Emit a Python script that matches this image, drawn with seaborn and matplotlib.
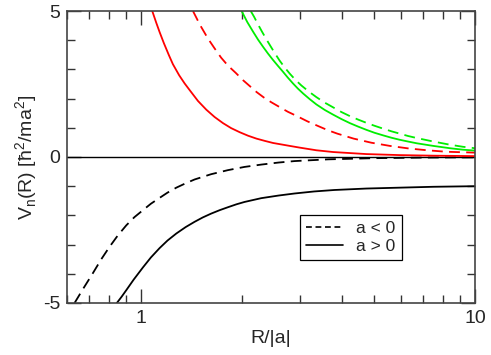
import matplotlib
matplotlib.use("Agg")
import matplotlib.pyplot as plt
import seaborn as sns
from matplotlib.lines import Line2D
from matplotlib.ticker import NullFormatter, FixedLocator

# values (x = R/|a|, y = V_n in hbar^2/ma^2)
black_dash_x = [0.632, 0.67, 0.717, 0.76, 0.804, 0.85, 0.903, 0.955, 1.013, 1.07, 1.136, 1.2, 1.275, 1.36, 1.446,
                1.62, 1.82, 2.04, 2.29, 2.58, 2.88, 3.63, 5.0, 7.0, 10.0]
black_dash_y = [-5.0, -4.52, -3.98, -3.50, -3.08, -2.70, -2.34, -2.06, -1.82, -1.60, -1.40, -1.22, -1.05, -0.90, -0.77,
                -0.59, -0.45, -0.34, -0.26, -0.19, -0.14, -0.08, -0.04, -0.02, -0.01]

black_solid_x = [0.846, 0.875, 0.903, 0.95, 1.013, 1.07, 1.136, 1.2, 1.275, 1.36, 1.446, 1.53, 1.62, 1.72, 1.82,
                 1.93, 2.04, 2.29, 2.58, 2.88, 3.3, 3.79, 4.73, 5.95, 7.5, 10.0]
black_solid_y = [-5.0, -4.78, -4.56, -4.20, -3.78, -3.44, -3.12, -2.86, -2.62, -2.40, -2.22, -2.07, -1.94, -1.82, -1.72,
                 -1.62, -1.54, -1.41, -1.32, -1.25, -1.18, -1.13, -1.08, -1.05, -1.02, -1.0]

red_solid_x = [1.08, 1.11, 1.136, 1.17, 1.21, 1.245, 1.30, 1.35, 1.398, 1.48, 1.568, 1.66, 1.759, 1.86, 1.973,
               2.09, 2.215, 2.35, 2.485, 2.787, 2.99, 3.35, 3.76, 4.73, 5.95, 7.5, 10.0]
red_solid_y = [5.0, 4.60, 4.28, 3.90, 3.50, 3.18, 2.80, 2.52, 2.29, 1.92, 1.62, 1.37, 1.16, 0.99, 0.85,
               0.73, 0.63, 0.55, 0.48, 0.38, 0.32, 0.23, 0.17, 0.10, 0.065, 0.045, 0.03]

red_dash_x = [1.43, 1.464, 1.50, 1.585, 1.66, 1.737, 1.82, 1.921, 2.02, 2.12, 2.22, 2.33, 2.45, 2.59, 2.75, 2.93,
              3.15, 3.39, 3.62, 3.87, 4.33, 4.89, 5.56, 6.35, 7.20, 8.19, 10.0]
red_dash_y = [5.0, 4.77, 4.53, 4.06, 3.72, 3.40, 3.13, 2.88, 2.63, 2.42, 2.22, 2.04, 1.88, 1.72, 1.55, 1.40,
              1.22, 1.06, 0.92, 0.80, 0.63, 0.49, 0.38, 0.29, 0.23, 0.18, 0.15]

green_solid_x = [2.0, 2.08, 2.165, 2.24, 2.32, 2.40, 2.485, 2.57, 2.66, 2.75, 2.85, 2.95, 3.06, 3.2, 3.35, 3.55,
                 3.76, 3.98, 4.22, 4.47, 4.73, 5.0, 5.31, 5.62, 5.95, 6.3, 6.69, 7.5, 8.42, 9.2, 10.0]
green_solid_y = [5.0, 4.62, 4.29, 4.02, 3.77, 3.54, 3.32, 3.12, 2.92, 2.72, 2.52, 2.34, 2.17, 1.98, 1.80, 1.61,
                 1.45, 1.30, 1.16, 1.04, 0.93, 0.83, 0.74, 0.66, 0.59, 0.53, 0.47, 0.38, 0.30, 0.25, 0.22]

green_dash_x = [2.13, 2.18, 2.24, 2.30, 2.37, 2.44, 2.52, 2.60, 2.69, 2.79, 2.90, 3.02, 3.18, 3.35, 3.55, 3.76,
                3.98, 4.22, 4.47, 4.73, 5.0, 5.31, 5.62, 5.95, 6.3, 6.69, 7.5, 8.42, 9.2, 10.0]
green_dash_y = [5.0, 4.80, 4.54, 4.30, 4.04, 3.80, 3.54, 3.30, 3.07, 2.85, 2.64, 2.45, 2.24, 2.05, 1.86, 1.70,
                1.54, 1.40, 1.28, 1.17, 1.07, 0.97, 0.88, 0.80, 0.72, 0.65, 0.53, 0.42, 0.35, 0.30]

legend_labels = ["a < 0", "a > 0"]

sns.set_style("ticks")
plt.rcParams["font.family"] = ["Liberation Sans", "DejaVu Sans"]
plt.rcParams["mathtext.fontset"] = "custom"
plt.rcParams["mathtext.rm"] = "Liberation Sans"

fig = plt.figure(figsize=(4.91, 3.55), dpi=100)
ax = fig.add_axes([0.1365, 0.1465, 0.8309, 0.8225])

ax.axhline(0, color="black", lw=1.0)

lw = 1.3
dash = (6, 3.5)
sns.lineplot(x=black_dash_x, y=black_dash_y, color="black", lw=lw, ax=ax).lines[-1].set_dashes(dash)
sns.lineplot(x=black_solid_x, y=black_solid_y, color="black", lw=lw, ax=ax)
sns.lineplot(x=red_solid_x, y=red_solid_y, color="#ff0000", lw=lw, ax=ax)
sns.lineplot(x=red_dash_x, y=red_dash_y, color="#ff0000", lw=lw, ax=ax).lines[-1].set_dashes(dash)
sns.lineplot(x=green_solid_x, y=green_solid_y, color="#00ee00", lw=lw, ax=ax)
sns.lineplot(x=green_dash_x, y=green_dash_y, color="#00ee00", lw=lw, ax=ax).lines[-1].set_dashes(dash)

ax.set_xscale("log")
ax.set_xlim(0.6, 10)
ax.set_ylim(-5, 5)

ax.xaxis.set_major_locator(FixedLocator([1, 10]))
ax.set_xticklabels(["1", "10"])
ax.xaxis.set_minor_locator(FixedLocator([0.6, 0.7, 0.8, 0.9, 2, 3, 4, 5, 6, 7, 8, 9]))
ax.xaxis.set_minor_formatter(NullFormatter())
ax.set_yticks([-5, 0, 5])
ax.set_yticklabels(["-5", "0", "5"])
ax.yaxis.set_minor_locator(FixedLocator([-4, -3, -2, -1, 1, 2, 3, 4]))

ax.tick_params(which="both", direction="in", top=True, right=True, color="#333333", width=1.0, labelsize=14, pad=5)
ax.tick_params(which="major", length=10)
ax.tick_params(which="minor", length=6)
for s in ax.spines.values():
    s.set_color("#444444")
    s.set_linewidth(1.2)

ax.set_xlabel("R/|a|", fontsize=14, labelpad=2)
ax.set_ylabel(r"V$_\mathrm{n}$(R) [ħ$^\mathrm{2}$/ma$^\mathrm{2}$]", fontsize=14, labelpad=2)

handles = [Line2D([], [], color="black", lw=1.2, dashes=(3.5, 2.2)),
           Line2D([], [], color="black", lw=1.2)]
leg = ax.legend(handles, legend_labels, loc="upper left", bbox_to_anchor=(0.571, 0.301),
                borderaxespad=0, fontsize=12.5, handlelength=2.1, handletextpad=0.8,
                fancybox=False, framealpha=1, borderpad=0.35, labelspacing=0.15)
leg.get_frame().set_edgecolor("black")
leg.get_frame().set_linewidth(0.9)

fig.savefig("out.png", dpi=100)
